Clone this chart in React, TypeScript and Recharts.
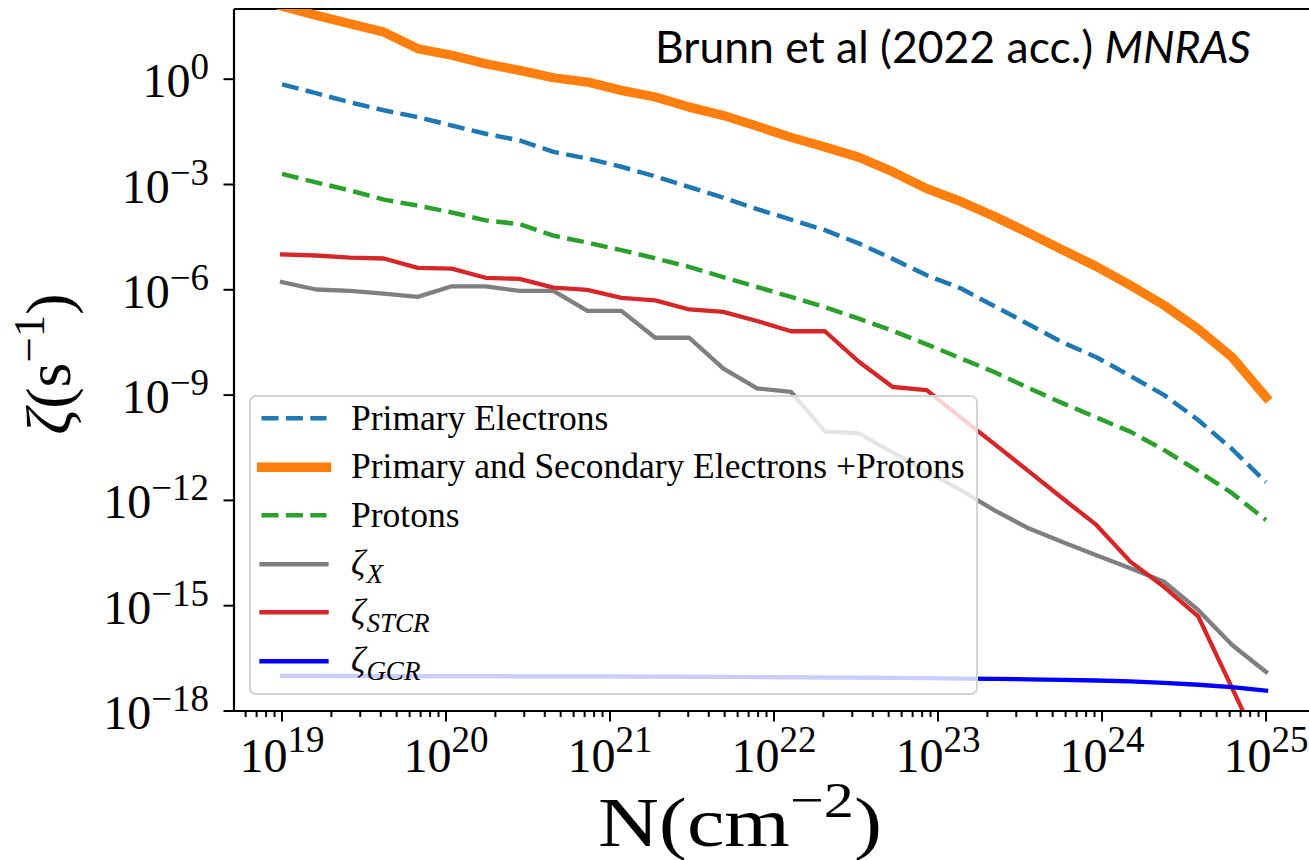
import React from 'react';
import { LineChart, Line, XAxis, YAxis, ReferenceLine, Legend } from 'recharts';

// Column density grid N (cm^-2), 30 log-spaced points from 1e19 to 1e25
const N_COLUMN = [
  1.0e19, 1.61e19, 2.593e19, 4.175e19, 6.723e19, 1.083e20, 1.743e20, 2.807e20, 4.52e20, 7.279e20,
  1.172e21, 1.887e21, 3.039e21, 4.894e21, 7.88e21, 1.269e22, 2.043e22, 3.29e22, 5.298e22, 8.532e22,
  1.374e23, 2.212e23, 3.562e23, 5.736e23, 9.237e23, 1.487e24, 2.395e24, 3.857e24, 6.21e24, 1.0e25,
];

// Ionisation rates zeta (s^-1)
const PRIMARY_ELECTRONS = [
  7.1e-1, 4.0e-1, 2.2e-1, 1.3e-1, 8.3e-2, 4.8e-2, 2.8e-2, 1.8e-2, 8.5e-3, 5.5e-3,
  3.2e-3, 1.7e-3, 8.5e-4, 4.2e-4, 2.0e-4, 1.0e-4, 5.0e-5, 2.1e-5, 7.6e-6, 2.6e-6,
  1.1e-6, 3.4e-7, 1.05e-7, 3.2e-8, 1.2e-8, 3.5e-9, 1.0e-9, 1.95e-10, 2.9e-11, 3.3e-12,
];
const PRIMARY_SECONDARY_PROTONS = [
  1.2e2, 66, 38, 22, 7.4, 4.8, 2.75, 1.78, 1.1, 0.83,
  0.48, 0.31, 0.16, 0.093, 0.046, 0.022, 0.0117, 6.0e-3, 2.3e-3, 7.6e-4,
  3.3e-4, 1.23e-4, 4.2e-5, 1.38e-5, 4.6e-6, 1.35e-6, 3.6e-7, 7.6e-8, 1.2e-8, 8.7e-10,
];
const PROTONS = [
  2.0e-3, 1.15e-3, 6.8e-4, 3.7e-4, 2.5e-4, 1.6e-4, 9.5e-5, 7.4e-5, 3.5e-5, 2.2e-5,
  1.35e-5, 7.9e-6, 4.5e-6, 2.3e-6, 1.2e-6, 6.3e-7, 3.2e-7, 1.5e-7, 6.8e-8, 2.8e-8,
  1.12e-8, 4.5e-9, 1.6e-9, 5.9e-10, 2.3e-10, 9.1e-11, 2.7e-11, 6.8e-12, 1.6e-12, 2.75e-13,
];
const ZETA_X = [
  1.66e-6, 1.02e-6, 9.3e-7, 7.8e-7, 6.3e-7, 1.26e-6, 1.26e-6, 9.3e-7, 9.3e-7, 2.5e-7,
  2.5e-7, 4.3e-8, 4.3e-8, 5.8e-9, 1.55e-9, 1.23e-9, 9.3e-11, 8.1e-11, 2.3e-11, 6.8e-12,
  1.95e-12, 5.2e-13, 1.6e-13, 6.5e-14, 2.75e-14, 1.17e-14, 4.8e-15, 7.6e-16, 7.6e-17, 1.3e-17,
];
const ZETA_STCR = [
  1.02e-5, 9.5e-6, 8.3e-6, 7.8e-6, 4.2e-6, 4.0e-6, 2.2e-6, 2.05e-6, 1.15e-6, 1.0e-6,
  5.9e-7, 5.0e-7, 2.75e-7, 2.35e-7, 1.29e-7, 6.6e-8, 6.6e-8, 8.9e-9, 1.7e-9, 1.38e-9,
  2.3e-10, 4.0e-11, 6.8e-12, 1.15e-12, 2.0e-13, 1.8e-14, 3.4e-15, 5.0e-16, 4.5e-18, 4.0e-20,
];
const ZETA_GCR = [
  1.0e-17, 1.0e-17, 9.95e-18, 9.9e-18, 9.9e-18, 9.85e-18, 9.8e-18, 9.75e-18, 9.7e-18, 9.65e-18,
  9.6e-18, 9.5e-18, 9.45e-18, 9.35e-18, 9.25e-18, 9.15e-18, 9.0e-18, 8.9e-18, 8.75e-18, 8.6e-18,
  8.4e-18, 8.2e-18, 8.0e-18, 7.75e-18, 7.4e-18, 7.0e-18, 6.3e-18, 5.6e-18, 4.8e-18, 3.8e-18,
];

// Axis ticks
const X_MAJOR_TICKS = [1e19, 1e20, 1e21, 1e22, 1e23, 1e24, 1e25];
const X_MINOR_MANTISSAS = [2, 3, 4, 5, 6, 7, 8, 9];
const Y_TICKS = [1e-18, 1e-15, 1e-12, 1e-9, 1e-6, 1e-3, 1e0];

const X_DOMAIN: [number, number] = [5.096e18, 1.828e25];
const Y_DOMAIN: [number, number] = [1e-18, 1e2];

const X_TICKS = (() => {
  const out: number[] = [...X_MAJOR_TICKS];
  for (let d = 18; d <= 24; d++) {
    for (const m of X_MINOR_MANTISSAS) {
      const v = m * Math.pow(10, d);
      if (v > X_DOMAIN[0] && v < X_DOMAIN[1]) out.push(v);
    }
  }
  return out.sort((a, b) => a - b);
})();

const DATA = N_COLUMN.map((n, i) => ({
  N: n,
  primary: PRIMARY_ELECTRONS[i],
  total: PRIMARY_SECONDARY_PROTONS[i],
  protons: PROTONS[i],
  zx: ZETA_X[i],
  zstcr: ZETA_STCR[i],
  zgcr: ZETA_GCR[i],
}));

type SeriesDef = {
  key: string;
  label: string;
  sub?: string;
  color: string;
  width: number;
  dash?: string;
};

const SERIES: SeriesDef[] = [
  { key: 'primary', label: 'Primary Electrons', color: '#1f77b4', width: 4.5, dash: '17 7.4' },
  { key: 'total', label: 'Primary and Secondary Electrons +Protons', color: '#ff7f0e', width: 9.3 },
  { key: 'protons', label: 'Protons', color: '#2ca02c', width: 4.5, dash: '17 7.4' },
  { key: 'zx', label: 'ζ', sub: 'X', color: '#7f7f7f', width: 4.3 },
  { key: 'zstcr', label: 'ζ', sub: 'STCR', color: '#d62728', width: 4.3 },
  { key: 'zgcr', label: 'ζ', sub: 'GCR', color: '#0000ff', width: 4.3 },
];

const SERIF = '"Liberation Serif", "Times New Roman", serif';
const SANS = 'Lato, "Open Sans", sans-serif';

function XTick(props: any) {
  const { x, y, payload } = props;
  const v = payload.value as number;
  const lg = Math.log10(v);
  const exp = Math.round(lg);
  const major = Math.abs(lg - exp) < 1e-6;
  return (
    <g>
      <line x1={x} x2={x} y1={y} y2={y + (major ? 10.5 : 6)} stroke="#000" strokeWidth={2} />
      {major && (
        <text x={x} y={y + 61} textAnchor="middle" fontFamily={SERIF} fontSize={48} fill="#000">
          10<tspan dy={-20} fontSize={37}>{exp}</tspan>
        </text>
      )}
    </g>
  );
}

function YTick(props: any) {
  const { x, y, payload } = props;
  const exp = Math.round(Math.log10(payload.value));
  const expText = exp < 0 ? `\u2212${-exp}` : `${exp}`;
  return (
    <g>
      <line x1={x - 10.5} x2={x} y1={y} y2={y} stroke="#000" strokeWidth={2} />
      <text x={x - 25} y={y + 18} textAnchor="end" fontFamily={SERIF} fontSize={48} fill="#000">
        10<tspan dy={-18} fontSize={37}>{expText}</tspan>
      </text>
    </g>
  );
}

function LegendBox() {
  const rowH = 48.5;
  return (
    <div
      style={{
        position: 'relative',
        width: 729,
        height: 300,
        boxSizing: 'border-box',
        border: '2.5px solid #d4d4d4',
        borderRadius: 7,
        background: 'rgba(255,255,255,0.8)',
        fontFamily: SERIF,
        color: '#000',
      }}
    >
      {SERIES.map((s, i) => (
        <div
          key={s.key}
          style={{
            position: 'absolute',
            left: 0,
            top: 24 - 2.5 + i * rowH - rowH / 2,
            height: rowH,
            display: 'flex',
            alignItems: 'center',
            whiteSpace: 'nowrap',
          }}
        >
          <svg width={100} height={rowH} style={{ display: 'block' }}>
            <line
              x1={10.5}
              x2={75.5}
              y1={rowH / 2}
              y2={rowH / 2}
              stroke={s.color}
              strokeWidth={s.width}
              strokeDasharray={s.dash}
              strokeLinecap={s.dash ? 'butt' : 'square'}
            />
          </svg>
          {s.sub ? (
            <span style={{ fontSize: 35.5, fontStyle: 'italic', lineHeight: 1 }}>
              {s.label}
              <span style={{ fontSize: 27, position: 'relative', top: 8, marginLeft: 1 }}>{s.sub}</span>
            </span>
          ) : (
            <span style={{ fontSize: 35.5, lineHeight: 1 }}>{s.label}</span>
          )}
        </div>
      ))}
    </div>
  );
}

export default function App() {
  return (
    <div style={{ position: 'absolute', left: 0, top: 0, background: '#fff' }}>
      <LineChart
        width={1309}
        height={860}
        data={DATA}
        margin={{ top: 9, right: 0, bottom: 49, left: 134 }}
      >
        <XAxis
          dataKey="N"
          type="number"
          scale="log"
          domain={X_DOMAIN}
          allowDataOverflow
          ticks={X_TICKS}
          interval={0}
          tick={<XTick />}
          tickSize={0}
          tickMargin={0}
          tickLine={false}
          axisLine={{ stroke: '#000', strokeWidth: 2.2 }}
          height={100}
        />
        <YAxis
          type="number"
          scale="log"
          domain={Y_DOMAIN}
          allowDataOverflow
          ticks={Y_TICKS}
          interval={0}
          tick={<YTick />}
          tickSize={0}
          tickMargin={0}
          tickLine={false}
          axisLine={{ stroke: '#000', strokeWidth: 2.2 }}
          width={100}
        />
        <ReferenceLine y={1e2} stroke="#000" strokeWidth={2.2} ifOverflow="visible" />
        {SERIES.map((s) => (
          <Line
            key={s.key}
            dataKey={s.key}
            type="linear"
            stroke={s.color}
            strokeWidth={s.width}
            strokeDasharray={s.dash}
            strokeLinecap={s.dash ? 'butt' : 'square'}
            strokeLinejoin="round"
            dot={false}
            activeDot={false}
            isAnimationActive={false}
          />
        ))}
        <Legend
          layout="vertical"
          align="center"
          verticalAlign="middle"
          content={() => <LegendBox />}
          wrapperStyle={{ left: 249, top: 395, width: 729, height: 300 }}
        />
        <text x={655} y={63} fontFamily={SANS} fontSize={44.5} fill="#000">
          Brunn et al (2022 acc.) <tspan fontStyle="italic">MNRAS</tspan>
        </text>
        <text
          x={598}
          y={846}
          fontFamily={SERIF}
          fontSize={70}
          fill="#000"
          textLength={284}
          lengthAdjust="spacingAndGlyphs"
        >
          N(cm<tspan dy={-29} fontSize={50}>{'\u22122'}</tspan>
          <tspan dy={29}>)</tspan>
        </text>
        <text
          transform="translate(70 364) rotate(-90)"
          textAnchor="middle"
          fontFamily={SERIF}
          fontSize={64}
          fill="#000"
        >
          <tspan fontStyle="italic">ζ</tspan>(s<tspan dy={-26} fontSize={45}>{'\u22121'}</tspan>
          <tspan dy={26}>)</tspan>
        </text>
      </LineChart>
    </div>
  );
}
